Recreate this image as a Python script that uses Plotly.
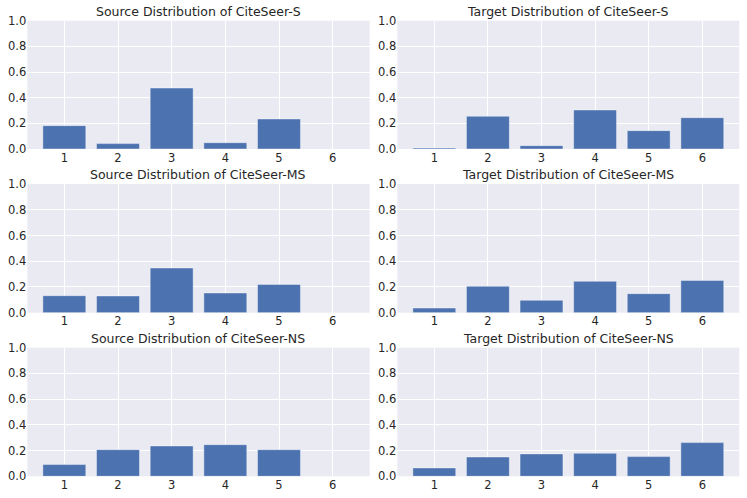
import plotly.graph_objects as go

categories = [1, 2, 3, 4, 5, 6]
titles = [
    "Source Distribution of CiteSeer-S", "Target Distribution of CiteSeer-S",
    "Source Distribution of CiteSeer-MS", "Target Distribution of CiteSeer-MS",
    "Source Distribution of CiteSeer-NS", "Target Distribution of CiteSeer-NS",
]
source_s = [0.182, 0.042, 0.475, 0.049, 0.234, 0.0]
target_s = [0.008, 0.255, 0.026, 0.304, 0.143, 0.244]
source_ms = [0.132, 0.130, 0.347, 0.153, 0.220, 0.0]
target_ms = [0.036, 0.205, 0.096, 0.244, 0.148, 0.251]
source_ns = [0.091, 0.207, 0.236, 0.246, 0.207, 0.0]
target_ns = [0.065, 0.150, 0.174, 0.179, 0.153, 0.262]
series = [source_s, target_s, source_ms, target_ms, source_ns, target_ns]
y_ticks = [0.0, 0.2, 0.4, 0.6, 0.8, 1.0]
y_ticklabels = ["0.0", "0.2", "0.4", "0.6", "0.8", "1.0"]

W, H = 747, 498
xcols = [(27.3, 369.7), (397.3, 739.3)]
yrows = [(20.7, 149.0), (184.0, 312.7), (347.7, 476.3)]

fig = go.Figure()
layout = dict(
    width=W, height=H, margin=dict(l=0, r=0, t=0, b=0, autoexpand=False),
    paper_bgcolor="white", plot_bgcolor="#EAEAF2", showlegend=False,
    font=dict(family="DejaVu Sans", color="#262626", size=11.5),
)
annotations = []
for i, vals in enumerate(series):
    r, c = divmod(i, 2)
    n = i + 1
    xa = "x" if n == 1 else f"x{n}"
    ya = "y" if n == 1 else f"y{n}"
    fig.add_trace(go.Bar(
        x=categories, y=vals, width=0.8, xaxis=xa, yaxis=ya,
        marker=dict(
            color="#4C72B0",
            line=dict(color="rgba(255,255,255,0.5)",
                      width=[0.8 if v > 0 else 0 for v in vals]),
        ),
    ))
    x0, x1 = xcols[c]
    yt, yb = yrows[r]
    dom_x = [x0 / W, x1 / W]
    dom_y = [1 - yb / H, 1 - yt / H]
    key = "" if n == 1 else str(n)
    layout["xaxis" + key] = dict(
        domain=dom_x, range=[0.31, 6.69], tickmode="array", tickvals=categories,
        ticktext=[str(v) for v in categories], showgrid=True, gridcolor="white",
        gridwidth=1, zeroline=False, showline=False, ticks="", anchor=ya,
        tickfont=dict(size=11.5, color="#262626"), fixedrange=True, automargin=False,
    )
    layout["yaxis" + key] = dict(
        domain=dom_y, range=[0, 1.0], tickmode="array", tickvals=y_ticks,
        ticktext=y_ticklabels, showgrid=True, gridcolor="white", gridwidth=1,
        zeroline=False, showline=False, ticks="", anchor=xa,
        tickfont=dict(size=11.5, color="#262626"), fixedrange=True, automargin=False,
    )
    annotations.append(dict(
        text=titles[i], xref="paper", yref="paper",
        x=(dom_x[0] + dom_x[1]) / 2, y=dom_y[1], xanchor="center", yanchor="bottom",
        yshift=0, showarrow=False, font=dict(size=12.5, color="#262626"),
    ))
layout["annotations"] = annotations
fig.update_layout(**layout)
fig.write_html(
    "out.html",
    config={"displayModeBar": False, "staticPlot": True},
    post_script="document.body.style.margin='0';document.body.style.overflow='hidden';",
)
